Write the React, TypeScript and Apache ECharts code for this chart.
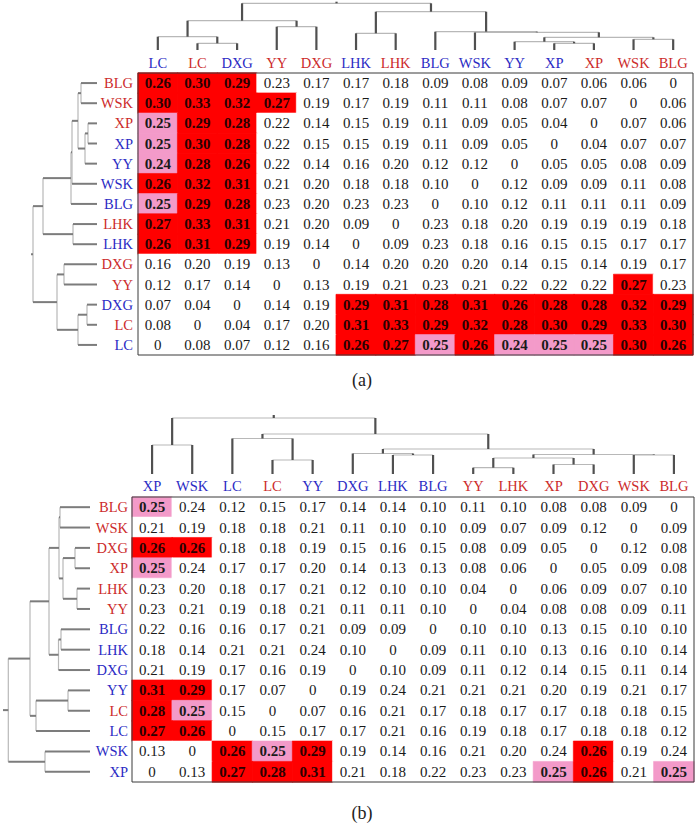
import React, { useEffect, useRef } from 'react';
import * as echarts from 'echarts';

// ---------- Panel (a) ----------
const colNamesA = ['LC', 'LC', 'DXG', 'YY', 'DXG', 'LHK', 'LHK', 'BLG', 'WSK', 'YY', 'XP', 'XP', 'WSK', 'BLG'];
const colGroupA = ['b', 'r', 'b', 'r', 'r', 'b', 'r', 'b', 'b', 'b', 'b', 'r', 'r', 'r'];
const rowNamesA = ['BLG', 'WSK', 'XP', 'XP', 'YY', 'WSK', 'BLG', 'LHK', 'LHK', 'DXG', 'YY', 'DXG', 'LC', 'LC'];
const rowGroupA = ['r', 'r', 'r', 'b', 'b', 'b', 'b', 'r', 'b', 'r', 'r', 'b', 'r', 'b'];
const valuesA = [
  [0.26, 0.30, 0.29, 0.23, 0.17, 0.17, 0.18, 0.09, 0.08, 0.09, 0.07, 0.06, 0.06, 0],
  [0.30, 0.33, 0.32, 0.27, 0.19, 0.17, 0.19, 0.11, 0.11, 0.08, 0.07, 0.07, 0, 0.06],
  [0.25, 0.29, 0.28, 0.22, 0.14, 0.15, 0.19, 0.11, 0.09, 0.05, 0.04, 0, 0.07, 0.06],
  [0.25, 0.30, 0.28, 0.22, 0.15, 0.15, 0.19, 0.11, 0.09, 0.05, 0, 0.04, 0.07, 0.07],
  [0.24, 0.28, 0.26, 0.22, 0.14, 0.16, 0.20, 0.12, 0.12, 0, 0.05, 0.05, 0.08, 0.09],
  [0.26, 0.32, 0.31, 0.21, 0.20, 0.18, 0.18, 0.10, 0, 0.12, 0.09, 0.09, 0.11, 0.08],
  [0.25, 0.29, 0.28, 0.23, 0.20, 0.23, 0.23, 0, 0.10, 0.12, 0.11, 0.11, 0.11, 0.09],
  [0.27, 0.33, 0.31, 0.21, 0.20, 0.09, 0, 0.23, 0.18, 0.20, 0.19, 0.19, 0.19, 0.18],
  [0.26, 0.31, 0.29, 0.19, 0.14, 0, 0.09, 0.23, 0.18, 0.16, 0.15, 0.15, 0.17, 0.17],
  [0.16, 0.20, 0.19, 0.13, 0, 0.14, 0.20, 0.20, 0.20, 0.14, 0.15, 0.14, 0.19, 0.17],
  [0.12, 0.17, 0.14, 0, 0.13, 0.19, 0.21, 0.23, 0.21, 0.22, 0.22, 0.22, 0.27, 0.23],
  [0.07, 0.04, 0, 0.14, 0.19, 0.29, 0.31, 0.28, 0.31, 0.26, 0.28, 0.28, 0.32, 0.29],
  [0.08, 0, 0.04, 0.17, 0.20, 0.31, 0.33, 0.29, 0.32, 0.28, 0.30, 0.29, 0.33, 0.30],
  [0, 0.08, 0.07, 0.12, 0.16, 0.26, 0.27, 0.25, 0.26, 0.24, 0.25, 0.25, 0.30, 0.26],
];
// dendrogram merges: [childA, childB, height]; leaves 0..13, merge k gets id 14+k
const colMergesA = [
  [1, 2, 6.7], [0, 14, 13.3], [3, 4, 23.3], [15, 16, 29.3], [5, 6, 16.7],
  [10, 11, 6.7], [9, 19, 8.3], [12, 13, 10.7], [20, 21, 12.7], [8, 22, 17.7],
  [7, 23, 18.3], [18, 24, 38.3], [17, 25, 46.7],
];
const colRootA = 48.3;
const rowMergesA = [
  [0, 1, 16], [2, 3, 9], [15, 4, 12], [14, 16, 19], [17, 5, 25], [18, 6, 26],
  [7, 8, 24], [19, 20, 54], [9, 10, 33], [11, 12, 10], [23, 13, 19], [22, 24, 40],
  [21, 25, 64],
];
const rowRootA = 66;

// ---------- Panel (b) ----------
const colNamesB = ['XP', 'WSK', 'LC', 'LC', 'YY', 'DXG', 'LHK', 'BLG', 'YY', 'LHK', 'XP', 'DXG', 'WSK', 'BLG'];
const colGroupB = ['b', 'b', 'b', 'r', 'b', 'b', 'b', 'b', 'r', 'r', 'r', 'r', 'r', 'r'];
const rowNamesB = ['BLG', 'WSK', 'DXG', 'XP', 'LHK', 'YY', 'BLG', 'LHK', 'DXG', 'YY', 'LC', 'LC', 'WSK', 'XP'];
const rowGroupB = ['r', 'r', 'r', 'r', 'r', 'r', 'b', 'b', 'b', 'b', 'r', 'b', 'b', 'b'];
const valuesB = [
  [0.25, 0.24, 0.12, 0.15, 0.17, 0.14, 0.14, 0.10, 0.11, 0.10, 0.08, 0.08, 0.09, 0],
  [0.21, 0.19, 0.18, 0.18, 0.21, 0.11, 0.10, 0.10, 0.09, 0.07, 0.09, 0.12, 0, 0.09],
  [0.26, 0.26, 0.18, 0.18, 0.19, 0.15, 0.16, 0.15, 0.08, 0.09, 0.05, 0, 0.12, 0.08],
  [0.25, 0.24, 0.17, 0.17, 0.20, 0.14, 0.13, 0.13, 0.08, 0.06, 0, 0.05, 0.09, 0.08],
  [0.23, 0.20, 0.18, 0.17, 0.21, 0.12, 0.10, 0.10, 0.04, 0, 0.06, 0.09, 0.07, 0.10],
  [0.23, 0.21, 0.19, 0.18, 0.21, 0.11, 0.11, 0.10, 0, 0.04, 0.08, 0.08, 0.09, 0.11],
  [0.22, 0.16, 0.16, 0.17, 0.21, 0.09, 0.09, 0, 0.10, 0.10, 0.13, 0.15, 0.10, 0.10],
  [0.18, 0.14, 0.21, 0.21, 0.24, 0.10, 0, 0.09, 0.11, 0.10, 0.13, 0.16, 0.10, 0.14],
  [0.21, 0.19, 0.17, 0.16, 0.19, 0, 0.10, 0.09, 0.11, 0.12, 0.14, 0.15, 0.11, 0.14],
  [0.31, 0.29, 0.17, 0.07, 0, 0.19, 0.24, 0.21, 0.21, 0.21, 0.20, 0.19, 0.21, 0.17],
  [0.28, 0.25, 0.15, 0, 0.07, 0.16, 0.21, 0.17, 0.18, 0.17, 0.17, 0.18, 0.18, 0.15],
  [0.27, 0.26, 0, 0.15, 0.17, 0.17, 0.21, 0.16, 0.19, 0.18, 0.17, 0.18, 0.18, 0.12],
  [0.13, 0, 0.26, 0.25, 0.29, 0.19, 0.14, 0.16, 0.21, 0.20, 0.24, 0.26, 0.19, 0.24],
  [0, 0.13, 0.27, 0.28, 0.31, 0.21, 0.18, 0.22, 0.23, 0.23, 0.25, 0.26, 0.21, 0.25],
];
const colMergesB = [
  [3, 4, 14], [2, 14, 35.5], [0, 1, 29], [6, 7, 19], [5, 17, 20.5], [8, 9, 6.3],
  [10, 11, 9.5], [19, 20, 16], [12, 13, 19], [21, 22, 19.5], [18, 23, 25],
  [15, 24, 40], [16, 25, 56],
];
const colRootB = 59;
const rowMergesB = [
  [0, 1, 30], [2, 3, 15], [4, 5, 13], [15, 16, 27], [14, 17, 31], [6, 7, 29],
  [19, 8, 31.5], [18, 20, 41], [9, 10, 22], [22, 11, 54], [21, 23, 60],
  [12, 13, 45], [24, 25, 81.7],
];
const rowRootB = 87;

// thresholds of the shading
const redMin = 0.26;
const pinkMinA = 0.24;
const pinkMinB = 0.25;

// ---------- styles ----------
const SERIF = "'Liberation Serif', 'Times New Roman', serif";
const LABEL_RED = '#cc2b2b';
const LABEL_BLUE = '#2b2bc4';
const CELL_RED = '#ff0000';
const CELL_PINK = '#f39ac9';

function cellColor(v: number, pinkMin: number) {
  if (v >= redMin - 1e-9) return CELL_RED;
  if (v >= pinkMin - 1e-9) return CELL_PINK;
  return '#ffffff';
}

function cellData(values: number[][], pinkMin: number) {
  const out: any[] = [];
  values.forEach((row, r) =>
    row.forEach((v, c) => {
      const isRed = v >= redMin - 1e-9;
      const hi = v >= pinkMin - 1e-9;
      const color = cellColor(v, pinkMin);
      out.push({
        value: [c, r, v],
        itemStyle: { borderColor: color, borderWidth: 0.6 },
        label: { fontWeight: hi ? 'bold' : 'normal', color: isRed ? '#2a0000' : '#1a1a1a' },
      });
    })
  );
  return out;
}

function shading(seriesIndex: number, pinkMin: number) {
  return {
    type: 'piecewise',
    show: false,
    seriesIndex,
    dimension: 2,
    pieces: [
      { gte: redMin - 0.005, color: CELL_RED },
      { gte: pinkMin - 0.005, lt: redMin - 0.005, color: CELL_PINK },
      { lt: pinkMin - 0.005, color: '#ffffff' },
    ],
  };
}

function dendroData(merges: number[][], rootTop: number) {
  const pos: number[] = [];
  const ht: number[] = [];
  for (let i = 0; i < 14; i++) {
    pos[i] = i;
    ht[i] = 0;
  }
  const data: number[][] = [];
  merges.forEach(([a, b, h], k) => {
    const id = 14 + k;
    pos[id] = (pos[a] + pos[b]) / 2;
    ht[id] = h;
    data.push([pos[a], pos[b], ht[a], ht[b], h, 0]);
  });
  const root = 14 + merges.length - 1;
  data.push([pos[root], pos[root], ht[root], ht[root], rootTop, 1]);
  return data;
}

function dendroSeries(
  idx: number,
  merges: number[][],
  rootTop: number,
  horizontal: boolean,
  stem: any,
  bar: any
) {
  return {
    type: 'custom',
    xAxisIndex: idx,
    yAxisIndex: idx,
    silent: true,
    data: dendroData(merges, rootTop),
    renderItem: (_p: any, api: any) => {
      const xl = api.value(0), xr = api.value(1);
      const hl = api.value(2), hr = api.value(3), h = api.value(4), kind = api.value(5);
      const pt = (p: number, hh: number) => (horizontal ? api.coord([hh, p]) : api.coord([p, hh]));
      const ln = (a: number[], b: number[], style: any) => ({
        type: 'line',
        shape: { x1: a[0], y1: a[1], x2: b[0], y2: b[1] },
        style,
      });
      if (kind === 1) {
        return { type: 'group', children: [ln(pt(xl, hl), pt(xl, h), stem)] };
      }
      const a1 = pt(xl, hl), a2 = pt(xl, h), b2 = pt(xr, h), b1 = pt(xr, hr);
      return {
        type: 'group',
        children: [ln(a2, b2, bar), ln(a1, a2, stem), ln(b1, b2, stem)],
      };
    },
  };
}

const colorOf = (groups: string[]) => (_v: any, i: number) => (groups[i] === 'r' ? LABEL_RED : LABEL_BLUE);

function catAxis(grid: number, names: string[], groups: string[], pos: string, margin: number, inverse: boolean) {
  return {
    type: 'category',
    gridIndex: grid,
    position: pos,
    data: names,
    inverse,
    axisLine: { show: false },
    axisTick: { show: false },
    splitLine: { show: false },
    axisLabel: {
      interval: 0,
      margin,
      fontFamily: SERIF,
      fontSize: 14.5,
      color: colorOf(groups),
    },
  };
}

const hidden = (grid: number, min: number, max: number, inverse = false) => ({
  type: 'value',
  gridIndex: grid,
  min,
  max,
  inverse,
  show: false,
});

export default function App() {
  const ref = useRef<HTMLDivElement>(null);
  useEffect(() => {
    if (!ref.current) return;
    const chart = echarts.init(ref.current, undefined, { renderer: 'svg' });
    const topStem = { stroke: '#505050', lineWidth: 2.2 };
    const topBar = { stroke: '#b8b8b8', lineWidth: 1.2 };
    const leftStem = { stroke: '#7c7c7c', lineWidth: 2 };
    const leftBar = { stroke: '#b8b8b8', lineWidth: 1.2 };
    const labelCfg = {
      show: true,
      fontFamily: SERIF,
      fontSize: 15,
      formatter: (p: any) => (p.value[2] === 0 ? '0' : Number(p.value[2]).toFixed(2)),
    };
    const frame = { show: true, borderColor: '#3a3a3a', borderWidth: 1, backgroundColor: 'transparent', z: 10 };
    chart.setOption({
      animation: false,
      backgroundColor: '#ffffff',
      visualMap: [shading(0, pinkMinA), shading(3, pinkMinB)],
      grid: [
        { left: 138, top: 73, width: 555, height: 282, ...frame },
        { left: 138, top: 50 - colRootA, width: 555, height: colRootA, show: false },
        { left: 97 - rowRootA, top: 73, width: rowRootA, height: 282, show: false },
        { left: 132, top: 497, width: 562, height: 285, ...frame },
        { left: 132, top: 474 - colRootB, width: 562, height: colRootB, show: false },
        { left: 90 - rowRootB, top: 497, width: rowRootB, height: 285, show: false },
      ],
      xAxis: [
        catAxis(0, colNamesA, colGroupA, 'top', 3, false),
        hidden(1, -0.5, 13.5),
        hidden(2, 0, rowRootA, true),
        catAxis(3, colNamesB, colGroupB, 'top', 4, false),
        hidden(4, -0.5, 13.5),
        hidden(5, 0, rowRootB, true),
      ],
      yAxis: [
        catAxis(0, rowNamesA, rowGroupA, 'left', 5, true),
        hidden(1, 0, colRootA),
        hidden(2, -0.5, 13.5, true),
        catAxis(3, rowNamesB, rowGroupB, 'left', 4, true),
        hidden(4, 0, colRootB),
        hidden(5, -0.5, 13.5, true),
      ],
      series: [
        {
          type: 'heatmap',
          xAxisIndex: 0,
          yAxisIndex: 0,
          data: cellData(valuesA, pinkMinA),
          label: labelCfg,
          emphasis: { disabled: true },
        },
        dendroSeries(1, colMergesA, colRootA, false, topStem, topBar),
        dendroSeries(2, rowMergesA, rowRootA, true, leftStem, leftBar),
        {
          type: 'heatmap',
          xAxisIndex: 3,
          yAxisIndex: 3,
          data: cellData(valuesB, pinkMinB),
          label: labelCfg,
          emphasis: { disabled: true },
        },
        dendroSeries(4, colMergesB, colRootB, false, topStem, topBar),
        dendroSeries(5, rowMergesB, rowRootB, true, leftStem, leftBar),
      ],
      graphic: [
        {
          type: 'text',
          x: 362,
          y: 380,
          style: { text: '(a)', fontFamily: SERIF, fontSize: 18, fill: '#222', align: 'center', verticalAlign: 'middle' },
        },
        {
          type: 'text',
          x: 362,
          y: 813,
          style: { text: '(b)', fontFamily: SERIF, fontSize: 18, fill: '#222', align: 'center', verticalAlign: 'middle' },
        },
      ],
    });
    return () => chart.dispose();
  }, []);
  return <div ref={ref} style={{ position: 'absolute', left: 0, top: 0, width: 700, height: 823 }} />;
}
